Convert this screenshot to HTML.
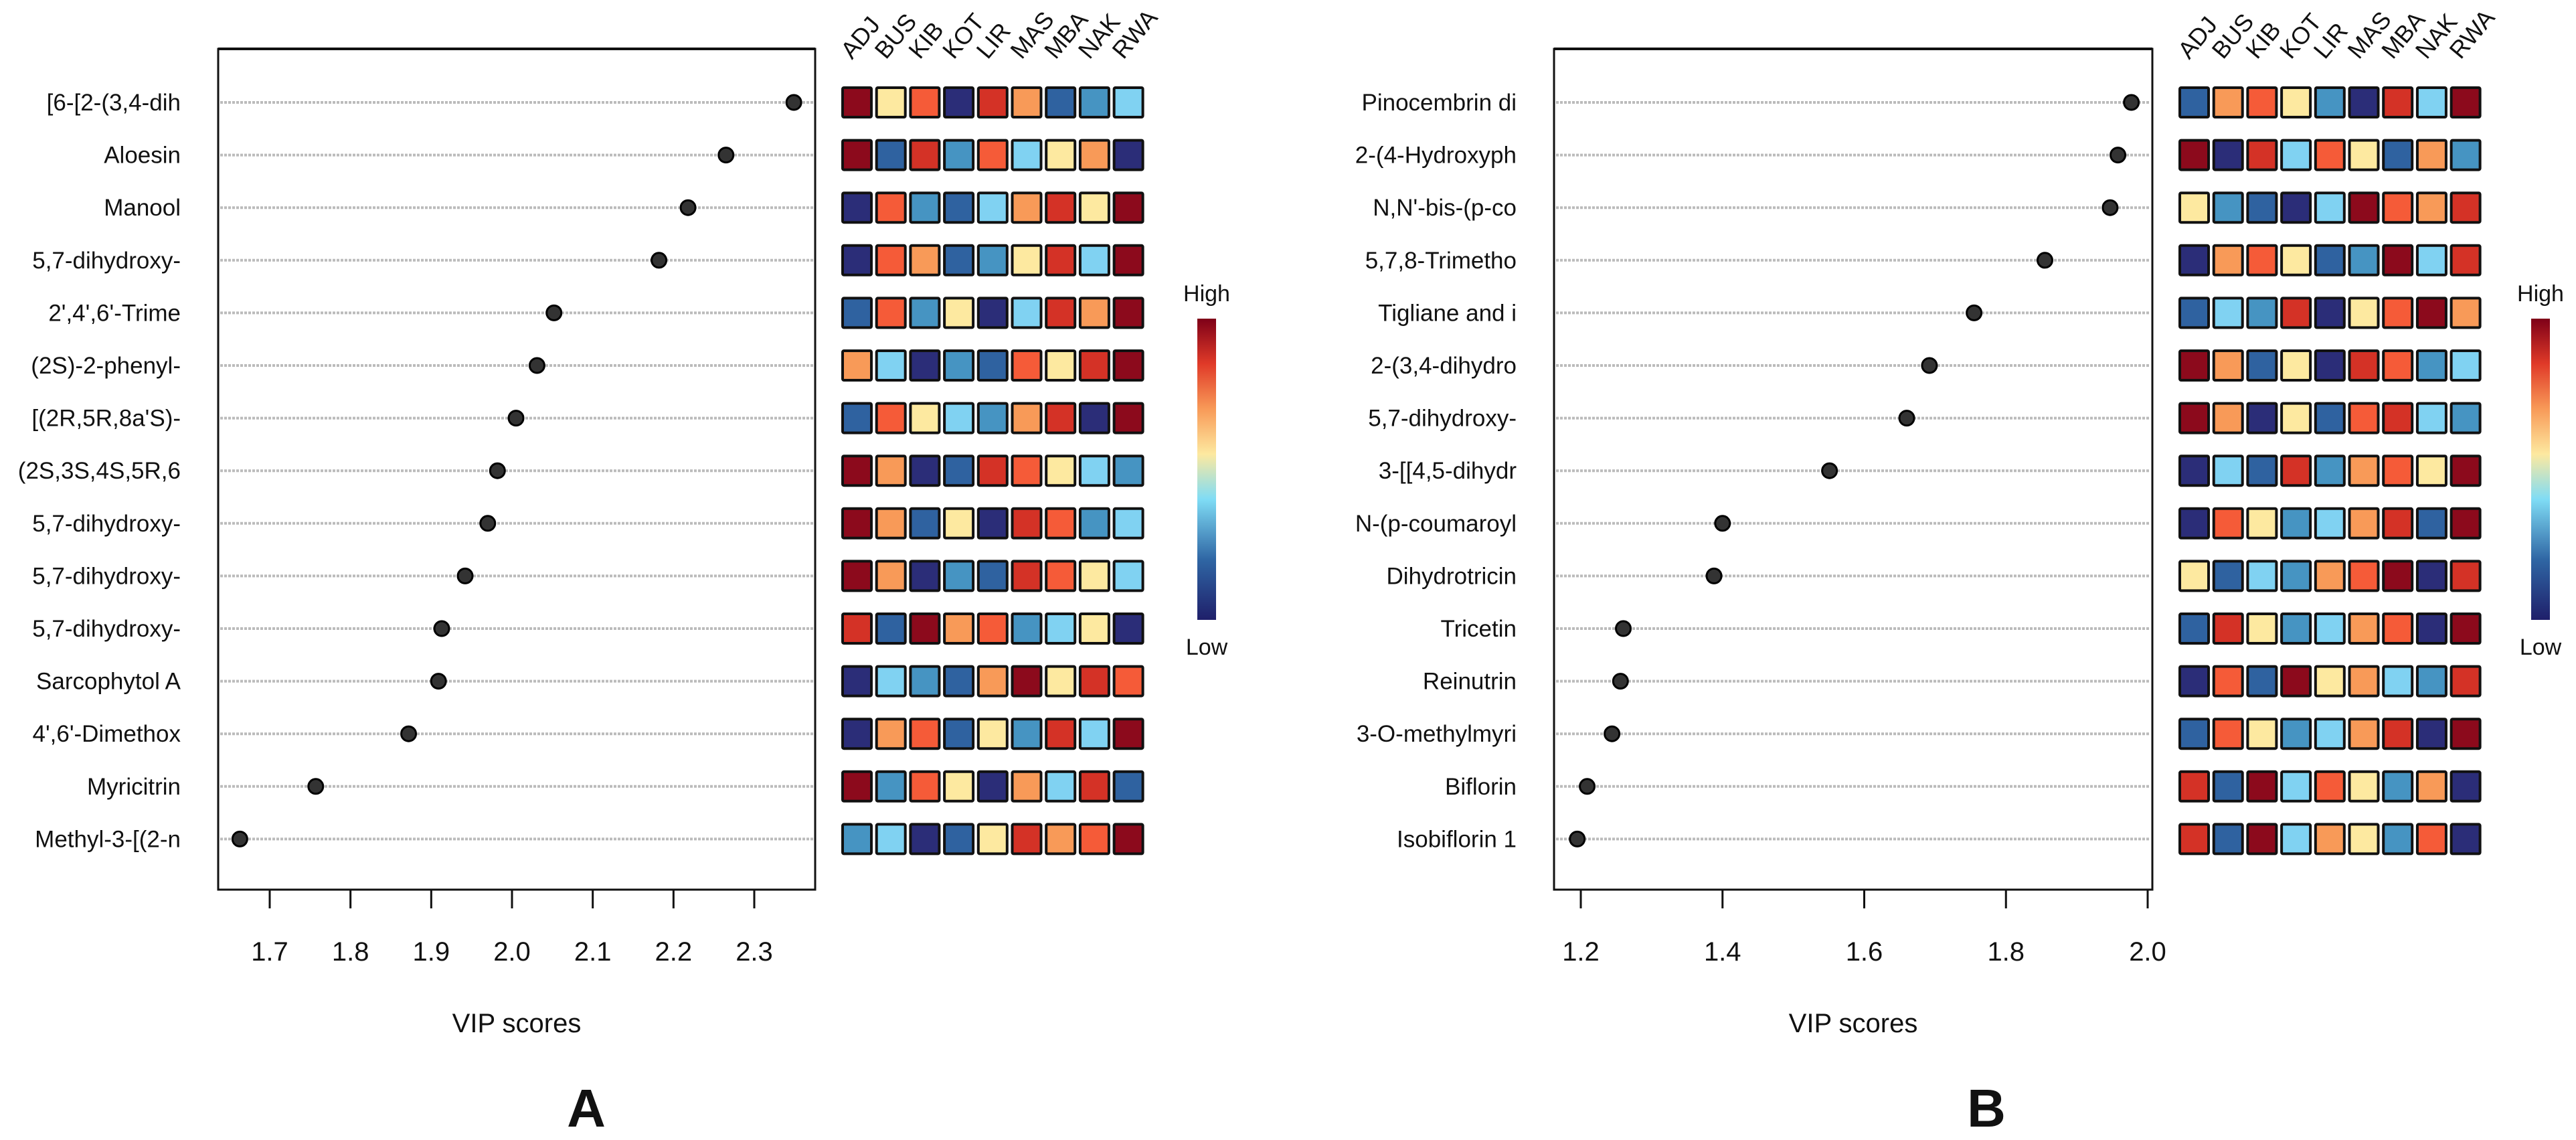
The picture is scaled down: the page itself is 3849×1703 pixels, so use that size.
<!DOCTYPE html>
<html><head><meta charset="utf-8"><style>
html,body{margin:0;padding:0;background:#fff;}
svg{display:block;font-family:"Liberation Sans",sans-serif;}
</style></head><body>
<svg id="chart" width="3849" height="1703" viewBox="0 0 3849 1703" xmlns="http://www.w3.org/2000/svg">
<defs>
<linearGradient id="cbar" x1="0" y1="1" x2="0" y2="0">
<stop offset="0" stop-color="#1f1f6a"/><stop offset="0.2" stop-color="#2f66a4"/><stop offset="0.4" stop-color="#7fdcf5"/><stop offset="0.55" stop-color="#fde9a0"/><stop offset="0.7" stop-color="#f89a58"/><stop offset="0.85" stop-color="#e03a28"/><stop offset="1" stop-color="#7e0018"/>
</linearGradient>
</defs>
</svg>
<script>
const groups=["ADJ","BUS","KIB","KOT","LIR","MAS","MBA","NAK","RWA"];
const namesA=["[6-[2-(3,4-dih","Aloesin","Manool","5,7-dihydroxy-","2',4',6'-Trime","(2S)-2-phenyl-","[(2R,5R,8a'S)-","(2S,3S,4S,5R,6","5,7-dihydroxy-","5,7-dihydroxy-","5,7-dihydroxy-","Sarcophytol A","4',6'-Dimethox","Myricitrin","Methyl-3-[(2-n"];
const vipA=[2.349,2.265,2.218,2.182,2.052,2.031,2.005,1.982,1.970,1.942,1.913,1.909,1.872,1.757,1.663];
const ticksA=[1.7,1.8,1.9,2.0,2.1,2.2,2.3];
const heatA=[[9,5,7,1,8,6,2,3,4],[9,2,8,3,7,4,5,6,1],[1,7,3,2,4,6,8,5,9],[1,7,6,2,3,5,8,4,9],[2,7,3,5,1,4,8,6,9],[6,4,1,3,2,7,5,8,9],[2,7,5,4,3,6,8,1,9],[9,6,1,2,8,7,5,4,3],[9,6,2,5,1,8,7,3,4],[9,6,1,3,2,8,7,5,4],[8,2,9,6,7,3,4,5,1],[1,4,3,2,6,9,5,8,7],[1,6,7,2,5,3,8,4,9],[9,3,7,5,1,6,4,8,2],[3,4,1,2,5,8,6,7,9]];
const namesB=["Pinocembrin di","2-(4-Hydroxyph","N,N'-bis-(p-co","5,7,8-Trimetho","Tigliane and i","2-(3,4-dihydro","5,7-dihydroxy-","3-[[4,5-dihydr","N-(p-coumaroyl","Dihydrotricin","Tricetin","Reinutrin","3-O-methylmyri","Biflorin","Isobiflorin 1"];
const vipB=[1.977,1.958,1.947,1.855,1.755,1.692,1.66,1.551,1.40,1.388,1.26,1.256,1.244,1.209,1.195];
const ticksB=[1.2,1.4,1.6,1.8,2.0];
const heatB=[[2,6,7,5,3,1,8,4,9],[9,1,8,4,7,5,2,6,3],[5,3,2,1,4,9,7,6,8],[1,6,7,5,2,3,9,4,8],[2,4,3,8,1,5,7,9,6],[9,6,2,5,1,8,7,3,4],[9,6,1,5,2,7,8,4,3],[1,4,2,8,3,6,7,5,9],[1,7,5,3,4,6,8,2,9],[5,2,4,3,6,7,9,1,8],[2,8,5,3,4,6,7,1,9],[1,7,2,9,5,6,4,3,8],[2,7,5,3,4,6,8,1,9],[8,2,9,4,7,5,3,6,1],[8,2,9,4,6,5,3,7,1]];
const palette=["#2b2d78","#2f62a0","#4694c2","#80d2f2","#fde9a0","#f89a58","#f55b38","#d43226","#8c0a1c"];
const NS="http://www.w3.org/2000/svg";
const svg=document.getElementById('chart');
function mk(tag,attrs,parent){const e=document.createElementNS(NS,tag);for(const k in attrs)e.setAttribute(k,attrs[k]);(parent||svg).appendChild(e);return e;}
function panel(p){
  const g=mk('g',{});
  
  
  const top=73,bot=1329,y0=153,dy=78.6;
  const xs=v=>p.x0+(v-p.t0)/(p.t1-p.t0)*(p.x1-p.x0);
  const box=mk('rect',{x:p.bl,y:top,width:p.br-p.bl,height:bot-top,fill:'none',stroke:'#111','stroke-width':3},g);
  
  
  mk('line',{x1:p.bl,y1:top,x2:p.br,y2:top,stroke:'#111','stroke-width':4},g);
  p.names.forEach((n,i)=>{
    const y=y0+i*dy;
    const gl=mk('line',{x1:p.bl+3,y1:y,x2:p.br-3,y2:y,stroke:'#bbb','stroke-width':4,'stroke-dasharray':'4 2'},g);
    
    
    const t=mk('text',{x:p.bl-56,y:y+12,'text-anchor':'end','font-size':35,fill:'#111'},g);
    t.textContent=n;
    
    
    const c=mk('circle',{cx:xs(p.vip[i]),cy:y,r:11,fill:'#333',stroke:'#000','stroke-width':3},g);
    
    
    p.heat[i].forEach((lv,j)=>{
      const r=mk('rect',{x:p.hx+j*50.7,y:y-22,width:43,height:44,fill:palette[lv-1],stroke:'#111','stroke-width':4,rx:2},g);
      
      
    });
  });
  groups.forEach((s,j)=>{
    const cx=p.hx+j*50.7+14, cy=90;
    const t=mk('text',{x:cx,y:cy,'font-size':36,fill:'#111',transform:`rotate(-50 ${cx} ${cy})`},g);
    t.textContent=s;
    
    
  });
  p.ticks.forEach(v=>{
    const x=xs(v);
    const tk=mk('line',{x1:x,y1:bot,x2:x,y2:bot+28,stroke:'#111','stroke-width':3},g);
    
    
    const t=mk('text',{x:x,y:1435,'text-anchor':'middle','font-size':40,fill:'#111'},g);
    t.textContent=v.toFixed(1);
    
    
  });
  const xt=mk('text',{x:(p.bl+p.br)/2,y:1542,'text-anchor':'middle','font-size':40,fill:'#111'},g);
  xt.textContent='VIP scores';
  
  
  const pl=mk('text',{x:p.lx,y:1683,'text-anchor':'middle','font-size':80,'font-weight':'bold',fill:'#111'},g);
  pl.textContent=p.id;
  
  
  const cb=mk('rect',{x:p.cbx,y:476,width:28,height:450,fill:'url(#cbar)'},g);
  
  
  const hi=mk('text',{x:p.cbx+14,y:450,'text-anchor':'middle','font-size':34,fill:'#111'},g);
  hi.textContent='High';
  
  
  const lo=mk('text',{x:p.cbx+14,y:978,'text-anchor':'middle','font-size':34,fill:'#111'},g);
  lo.textContent='Low';
  
  
}
panel({id:'A',names:namesA,vip:vipA,heat:heatA,ticks:ticksA,bl:326,br:1218,t0:1.7,t1:2.3,x0:403,x1:1127,hx:1259,cbx:1789,lx:876});
panel({id:'B',names:namesB,vip:vipB,heat:heatB,ticks:ticksB,bl:2322,br:3216,t0:1.2,t1:2.0,x0:2362,x1:3209,hx:3257,cbx:3782,lx:2968});
</script>
</body></html>
